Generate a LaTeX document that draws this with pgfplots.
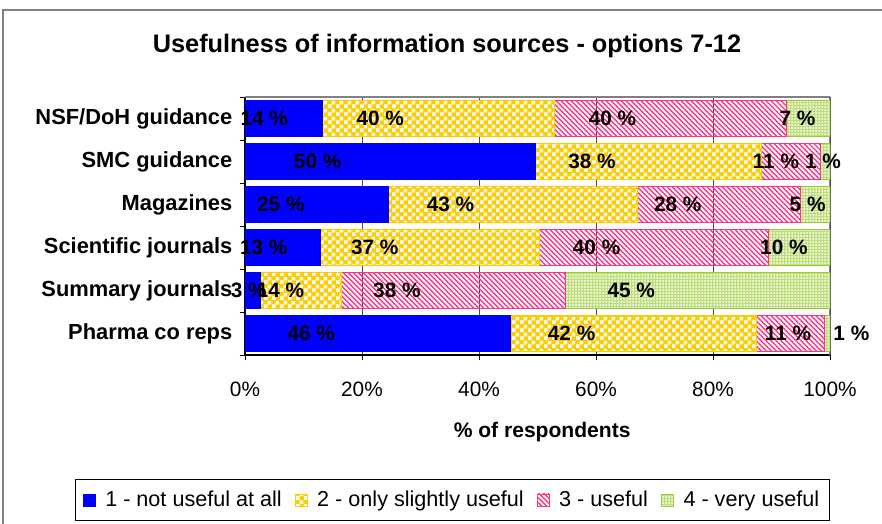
\documentclass[border=0pt]{standalone}
\usepackage{pgfplots}
\pgfplotsset{compat=1.18}
\usepackage{pgfplotstable}
\usepackage{fontspec}
\setmainfont{Liberation Sans}
\usetikzlibrary{patterns,patterns.meta}

\definecolor{cblue}{HTML}{0000FF}
\definecolor{cyellow}{HTML}{FFCC00}
\definecolor{cpink}{HTML}{FF3385}
\definecolor{cgreen}{HTML}{99CC33}
\definecolor{frame}{HTML}{808080}

\pgfdeclarepatternformonly{wcheck}{\pgfpointorigin}{\pgfqpoint{6pt}{6pt}}{\pgfqpoint{6pt}{6pt}}{%
  \pgfpathrectangle{\pgfqpoint{0pt}{0pt}}{\pgfqpoint{3pt}{3pt}}%
  \pgfpathrectangle{\pgfqpoint{3pt}{3pt}}{\pgfqpoint{3pt}{3pt}}%
  \pgfusepath{fill}}

% y: 0 = Pharma co reps ... 5 = NSF/DoH guidance
\pgfplotstableread{
y  a    b    c    d    la lb lc ld dc dd
0  45.3 42.1 11.7 0.9  46 42 11 1  11 19
1  2.6  13.8 38.3 45.3 3  14 38 45 0  0
2  12.8 37.5 39.2 10.5 13 37 40 10 0  0
3  24.5 42.5 27.9 5.1  25 43 28 5  0  0
4  49.7 38.5 10.2 1.6  50 38 11 1  0  0
5  13.2 39.7 39.7 7.4  14 40 40 7  0  0
}\data

\begin{document}
\begin{tikzpicture}
\useasboundingbox (0,0) rectangle (661.5pt,393pt);
\draw[frame, line width=1.2pt] (2.25pt,-20pt) -- (2.25pt,385.5pt) -- (700pt,385.5pt);
\node[font=\bfseries\fontsize{19}{22}\selectfont] at (335.25pt,358.5pt) {Usefulness of information sources - options 7-12};

\begin{axis}[
  at={(183.75pt,126.75pt)}, anchor=south west,
  scale only axis, width=438.75pt, height=193.5pt,
  xbar stacked, bar width=27pt,
  xmin=0, xmax=100, ymin=-0.5, ymax=5.5,
  axis x line*=bottom, axis y line*=left,
  axis line style={-, black, line width=0.8pt},
  xtick={0,20,...,100},
  xticklabels={0\%,20\%,40\%,60\%,80\%,100\%},
  minor xtick={0,20,...,100},
  ytick={0,...,5},
  yticklabels={Pharma co reps,Summary journals,Scientific journals,Magazines,SMC guidance,NSF/DoH guidance},
  minor ytick={-0.5,0.5,...,5.5},
  major tick length=0pt, minor tick length=4pt, tick align=outside,
  minor tick style={black, line width=0.6pt},
  xmajorgrids, major grid style={black!70, line width=0.5pt},
  xticklabel style={font=\fontsize{15.6}{18}\selectfont, yshift=-17pt},
  yticklabel style={font=\bfseries\fontsize{16.4}{18}\selectfont, xshift=-6pt},
  xlabel={\% of respondents},
  xlabel style={font=\bfseries\fontsize{15.8}{18}\selectfont, at={(axis description cs:0.508,-0.30)}, anchor=center},
  point meta=explicit symbolic,
  nodes near coords={\pgfplotspointmeta\ \%},
  every node near coord/.append style={font=\bfseries\fontsize{15.6}{18}\selectfont, text=black, anchor=center, xshift={-1.096875*\w}},
  legend columns=4,
  legend style={at={(axis description cs:0.3547,-0.562)}, anchor=center, draw=black, line width=0.6pt,
    font=\fontsize{16.2}{19}\selectfont, inner xsep=6pt, inner ysep=7pt,
    /tikz/every even column/.append style={column sep=8pt}},
  legimg/.style={legend image code/.code={\path[##1] (0pt,-4.5pt) rectangle (9pt,4.5pt); \path (14pt,0pt);}},
]
\addplot[fill=cblue, draw=cblue, visualization depends on={\thisrow{a} \as \w}, legimg]
  table[x=a, y=y, meta=la] {\data};
\addplot[fill=cyellow, draw=cyellow, postaction={pattern=wcheck, pattern color=white}, visualization depends on={\thisrow{b} \as \w}, legimg]
  table[x=b, y=y, meta=lb] {\data};
\addplot[draw=cpink, pattern={Lines[angle=-45,distance=2.65pt,line width=1.05pt]}, pattern color=cpink, visualization depends on={\thisrow{c} \as \w}, visualization depends on={\thisrow{dc} \as \dc}, every node near coord/.append style={xshift={\dc}}, legimg]
  table[x=c, y=y, meta=lc] {\data};
\addplot[fill=cgreen!65, draw=cgreen, postaction={pattern={Dots[distance=2.25pt,radius=0.75pt]}, pattern color=white}, visualization depends on={\thisrow{d} \as \w}, visualization depends on={\thisrow{dd} \as \dd}, every node near coord/.append style={xshift={\dd}}, legimg]
  table[x=d, y=y, meta=ld] {\data};
\legend{1 - not useful at all, 2 - only slightly useful, 3 - useful, 4 - very useful}
\draw[frame, line width=0.8pt] (rel axis cs:0,1) -- (rel axis cs:1,1) -- (rel axis cs:1,0);
\end{axis}
\end{tikzpicture}
\end{document}
